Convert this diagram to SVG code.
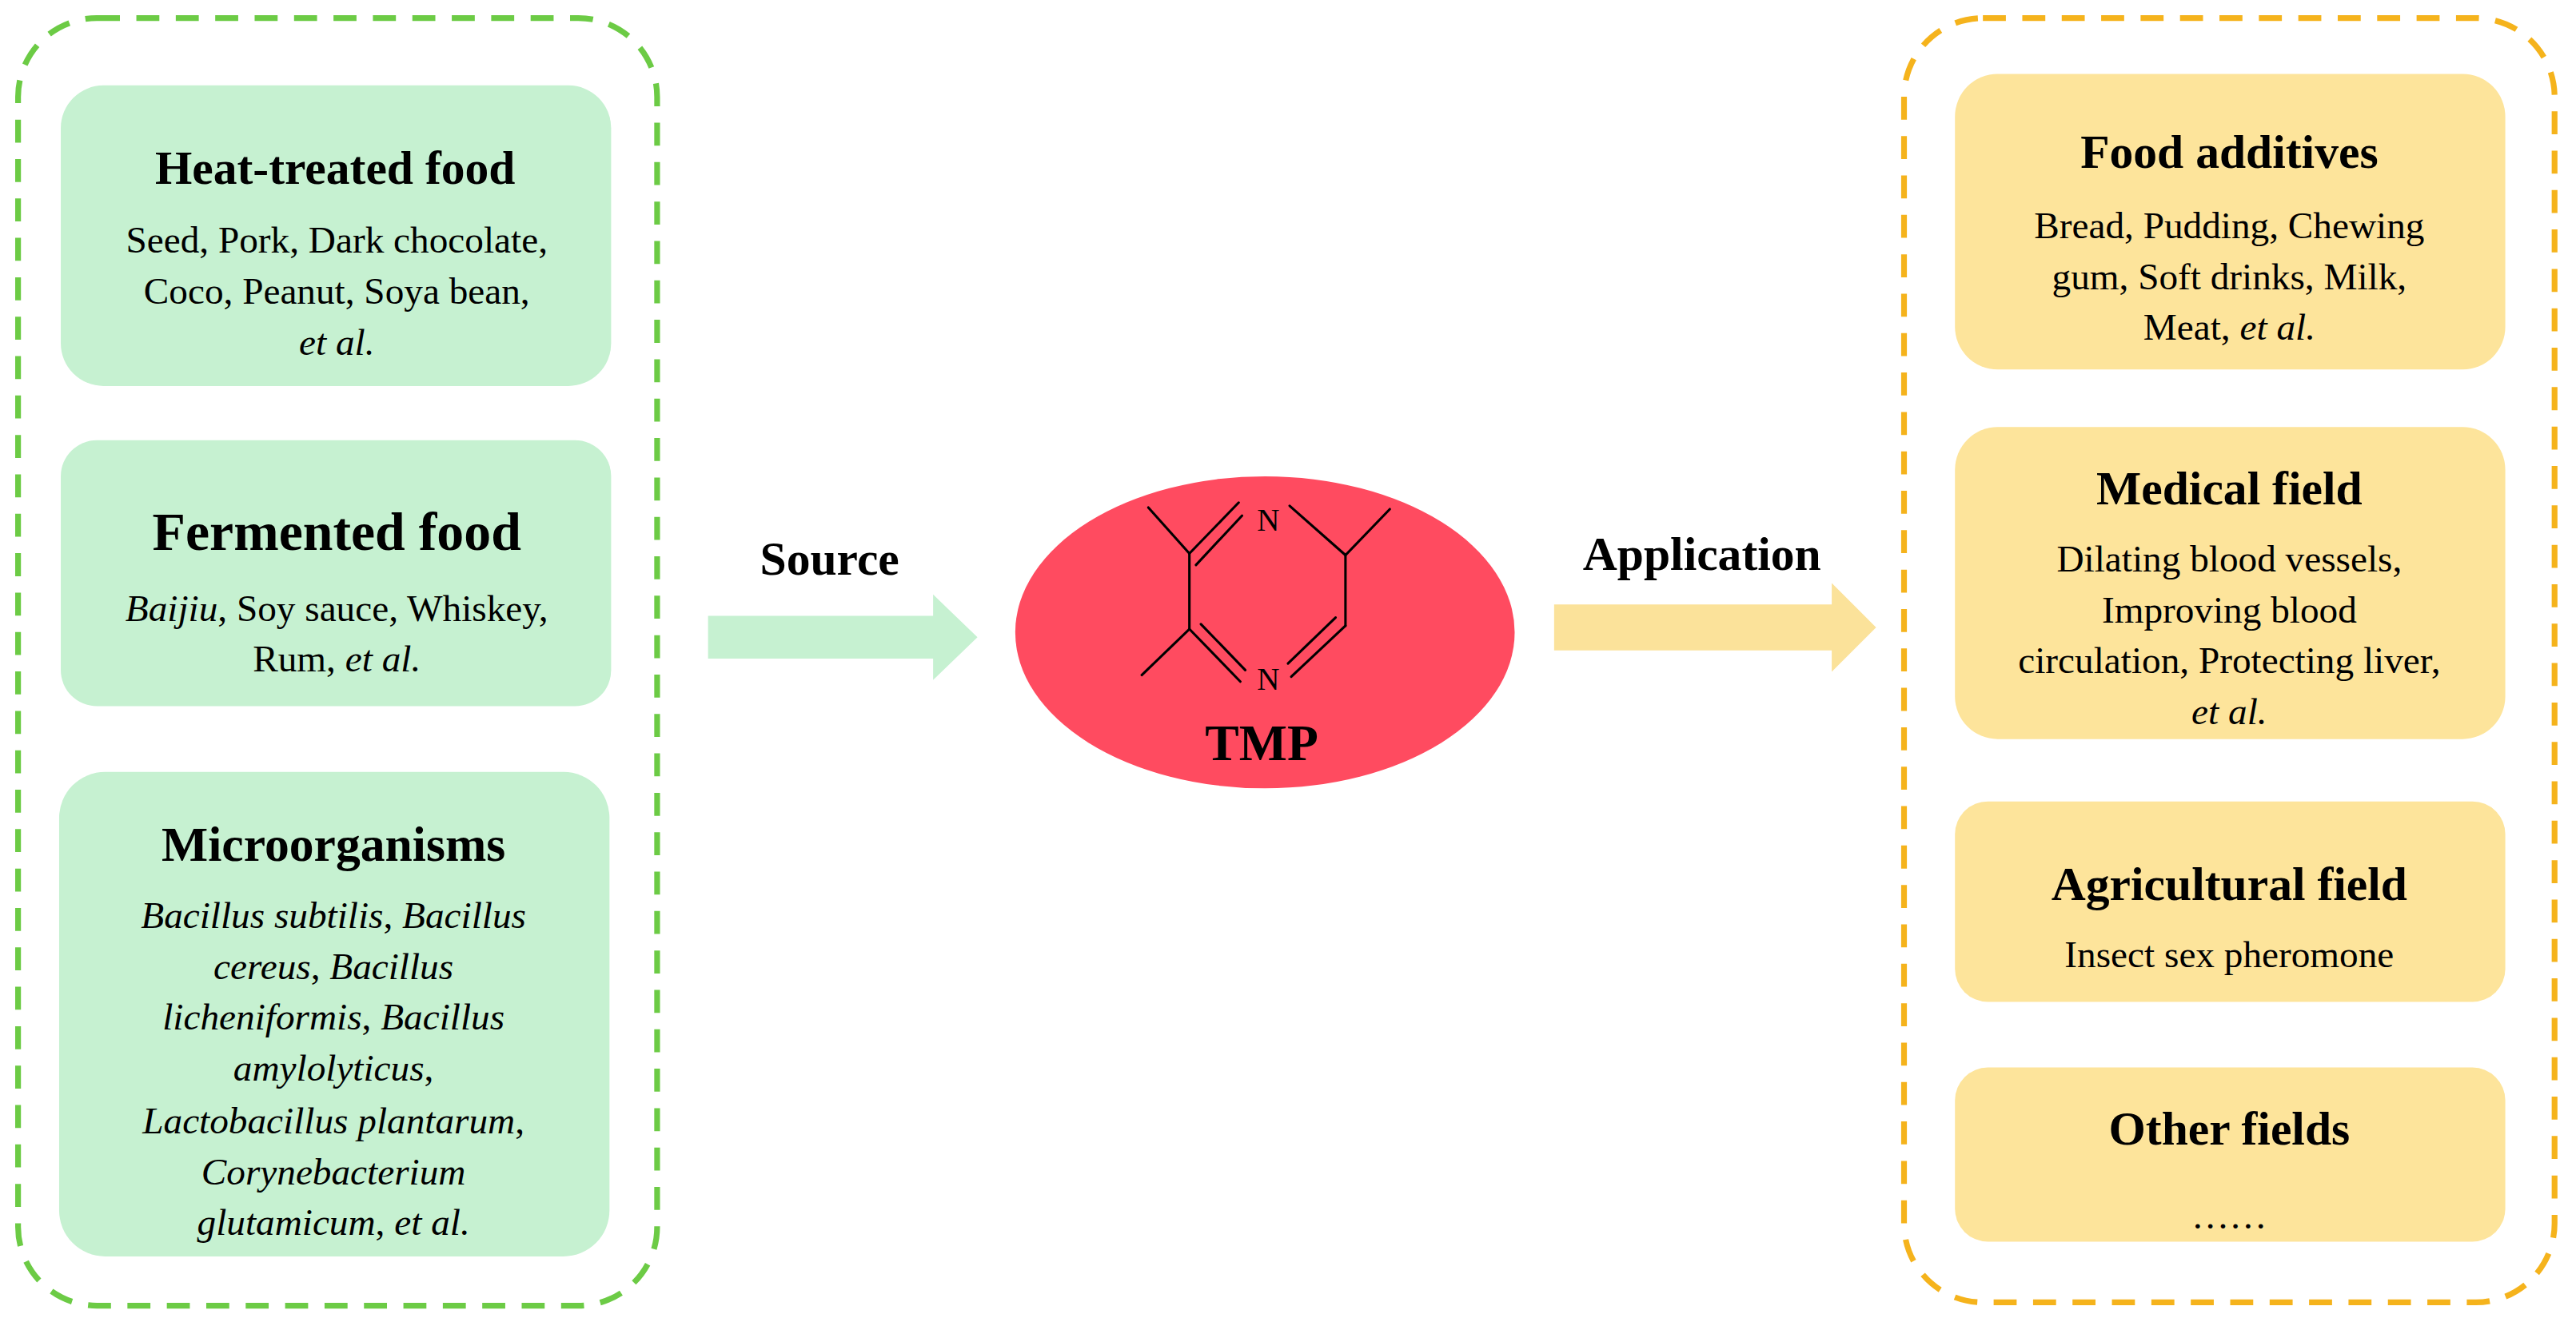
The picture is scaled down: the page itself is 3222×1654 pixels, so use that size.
<svg xmlns="http://www.w3.org/2000/svg" width="3222" height="1654" viewBox="0 0 3222 1654">
<style>
text{font-family:"Liberation Serif","Times New Roman",serif;text-anchor:middle;fill:#000}
.t{font-weight:bold;font-size:29px}
.b{font-size:23px}
.i{font-style:italic}
.g{fill:#C6F1D1}
.y{fill:#FDE49B}
.bond{stroke:#000;stroke-width:1.5;fill:none;stroke-linecap:round}
</style>
<rect width="3222" height="1654" fill="#fff"/>
<g transform="scale(2.0548)">
<rect x="11" y="11" width="389" height="784" rx="48" fill="none" stroke="#6CCB45" stroke-width="3.5" stroke-dasharray="14 10"/>
<rect x="1159" y="11" width="396" height="782" rx="48" fill="none" stroke="#F5B31C" stroke-width="3.5" stroke-dasharray="14 10"/>
<g id="heat">
<rect class="g" x="37" y="52" width="335" height="183" rx="26"/>
<text class="t" x="204" y="112">Heat-treated food</text>
<text class="b" x="205" y="154">Seed, Pork, Dark chocolate,</text>
<text class="b" x="205" y="185">Coco, Peanut, Soya bean,</text>
<text class="b i" x="205" y="216">et al.</text>
</g>
<g id="fermented">
<rect class="g" x="37" y="268" width="335" height="162" rx="22"/>
<text class="t" x="205" y="335" style="font-size:33px">Fermented food</text>
<text class="b" x="205" y="378"><tspan class="i">Baijiu</tspan>, Soy sauce, Whiskey,</text>
<text class="b" x="205" y="409">Rum, <tspan class="i">et al.</tspan></text>
</g>
<g id="micro">
<rect class="g" x="36" y="470" width="335" height="295" rx="28"/>
<text class="t" x="203" y="524" style="font-size:30px">Microorganisms</text>
<text class="b i" x="203" y="565">Bacillus subtilis<tspan font-style="normal">, </tspan>Bacillus</text>
<text class="b i" x="203" y="596">cereus<tspan font-style="normal">, </tspan>Bacillus</text>
<text class="b i" x="203" y="627">licheniformis<tspan font-style="normal">, </tspan>Bacillus</text>
<text class="b i" x="203" y="658">amylolyticus<tspan font-style="normal">,</tspan></text>
<text class="b i" x="203" y="690">Lactobacillus plantarum<tspan font-style="normal">,</tspan></text>
<text class="b i" x="203" y="721">Corynebacterium</text>
<text class="b i" x="203" y="752">glutamicum<tspan font-style="normal">, </tspan>et al.</text>
</g>
<g id="connectors">
<text class="t" x="505" y="350">Source</text>
<path d="M431 375H568V362L595 388L568 414V401H431Z" fill="#C6F1D1"/>
<text class="t" x="1036" y="347">Application</text>
<path d="M946 368H1115V355L1142 382L1115 409V396H946Z" fill="#FBE29A"/>
</g>
<g id="tmp">
<ellipse cx="770" cy="385" rx="152" ry="95" fill="#FF4B60"/>
<g class="bond">
<path d="M699 309L724 337"/>
<path d="M724 337L754 306M728 344L756 314"/>
<path d="M785 308L819 338L846 310"/>
<path d="M819 338V381"/>
<path d="M819 381L786 412M813 376L784 404"/>
<path d="M724 337V383L695 411"/>
<path d="M724 383L755 415M731 380L758 408"/>
</g>
<text x="772" y="323" style="font-size:19px">N</text>
<text x="772" y="420" style="font-size:19px">N</text>
<text class="t" x="768" y="463" style="font-size:31px">TMP</text>
</g>
<g id="additives">
<rect class="y" x="1190" y="45" width="335" height="180" rx="26"/>
<text class="t" x="1357" y="102">Food additives</text>
<text class="b" x="1357" y="145">Bread, Pudding, Chewing</text>
<text class="b" x="1357" y="176">gum, Soft drinks, Milk,</text>
<text class="b" x="1357" y="207">Meat, <tspan class="i">et al.</tspan></text>
</g>
<g id="medical">
<rect class="y" x="1190" y="260" width="335" height="190" rx="26"/>
<text class="t" x="1357" y="307">Medical field</text>
<text class="b" x="1357" y="348">Dilating blood vessels,</text>
<text class="b" x="1357" y="379">Improving blood</text>
<text class="b" x="1357" y="410">circulation, Protecting liver,</text>
<text class="b i" x="1357" y="441">et al.</text>
</g>
<g id="agri">
<rect class="y" x="1190" y="488" width="335" height="122" rx="20"/>
<text class="t" x="1357" y="548">Agricultural field</text>
<text class="b" x="1357" y="589">Insect sex pheromone</text>
</g>
<g id="other">
<rect class="y" x="1190" y="650" width="335" height="106" rx="20"/>
<text class="t" x="1357" y="697">Other fields</text>
<text class="b" x="1357" y="748">……</text>
</g>
</g>
</svg>
